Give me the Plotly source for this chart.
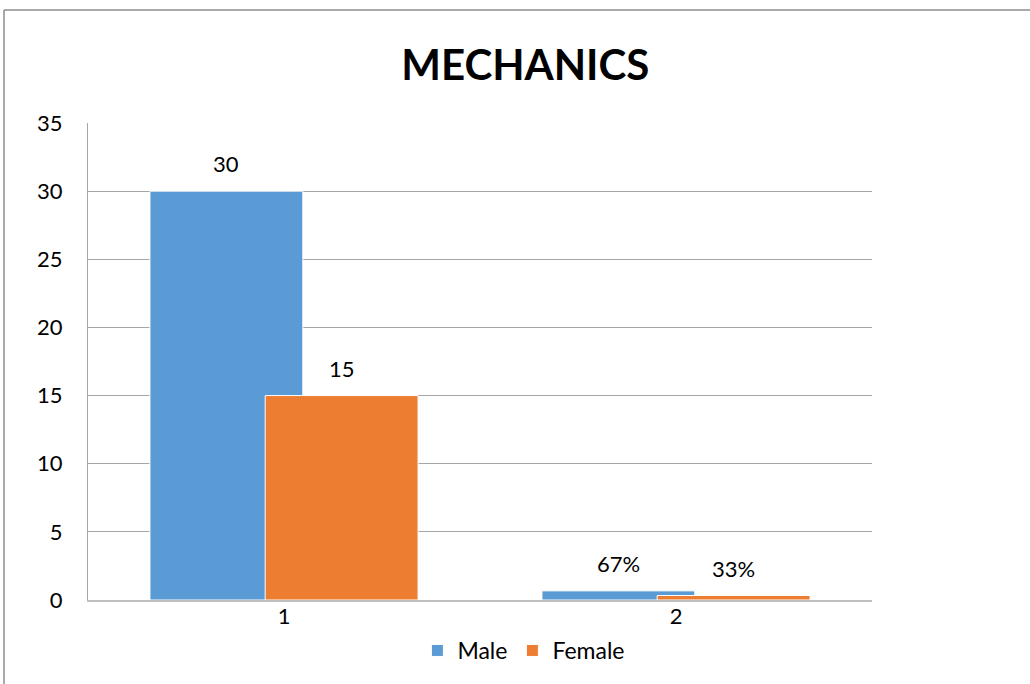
import plotly.graph_objects as go

categories = ["1", "2"]
male = [30, 0.67]
female = [15, 0.33]
male_labels = ["30", "67%"]
female_labels = ["15", "33%"]
series_names = ["Male", "Female"]
y_ticks = [0, 5, 10, 15, 20, 25, 30, 35]

BLUE = "#5b9bd5"
ORANGE = "#ed7d31"
FONT = "Lato, 'Open Sans', sans-serif"

W_BAR = 0.39
OFF_M = -0.342
OFF_F = -0.048

fig = go.Figure()
fig.add_trace(go.Bar(
    x=[0, 1], y=male, name=series_names[0], width=W_BAR, offset=OFF_M,
    marker=dict(color=BLUE, line=dict(color="white", width=1)),
))
fig.add_trace(go.Bar(
    x=[0, 1], y=female, name=series_names[1], width=W_BAR, offset=OFF_F,
    marker=dict(color=ORANGE, line=dict(color="white", width=1)),
))

annotations = []
for i in range(len(categories)):
    annotations.append(dict(x=i + OFF_M + W_BAR / 2, y=male[i], text=male_labels[i],
                            xref="x", yref="y", showarrow=False, yanchor="bottom", yshift=12,
                            font=dict(family=FONT, size=22, color="#000")))
    annotations.append(dict(x=i + OFF_F + W_BAR / 2, y=female[i], text=female_labels[i],
                            xref="x", yref="y", showarrow=False, yanchor="bottom", yshift=12,
                            font=dict(family=FONT, size=22, color="#000")))

fig.update_layout(
    width=1030, height=684,
    margin=dict(l=88, r=158, t=123, b=84, autoexpand=False),
    paper_bgcolor="white", plot_bgcolor="white",
    barmode="overlay",
    title=dict(text="<b>MECHANICS</b>", x=0.51, xanchor="center", y=0.905, yanchor="middle",
               font=dict(family=FONT, size=42, color="#000")),
    font=dict(family=FONT, size=22, color="#000"),
    showlegend=True,
    legend=dict(orientation="h", x=0.556, xanchor="center",
                y=-(629 - 600) / 477, yanchor="top",
                font=dict(family=FONT, size=23, color="#000"), itemwidth=30,
                traceorder="normal"),
    annotations=annotations,
    xaxis=dict(range=[-0.5, 1.5], tickmode="array", tickvals=[0, 1], ticktext=categories,
               showgrid=False, showline=True, linecolor="#bfbfbf", linewidth=2,
               ticks="", zeroline=False, ticklabelstandoff=-4, automargin=False,
               tickfont=dict(family=FONT, size=22, color="#000")),
    yaxis=dict(range=[0, 35], tickvals=y_ticks, showgrid=True, gridcolor="#a6a6a6", gridwidth=1,
               showline=True, linecolor="#a6a6a6", linewidth=1, zeroline=False,
               ticks="", ticklabelstandoff=20, automargin=False,
               tickfont=dict(family=FONT, size=22, color="#000")),
    shapes=[
        dict(type="line", xref="paper", yref="paper", x0=(4 - 88) / 784, x1=(4 - 88) / 784,
             y0=(600 - 10) / 477, y1=-0.3, line=dict(color="#8c8c8c", width=1.5)),
        dict(type="line", xref="paper", yref="paper", x0=(4 - 88) / 784, x1=1.3,
             y0=(600 - 10) / 477, y1=(600 - 10) / 477, line=dict(color="#8c8c8c", width=1.5)),
    ],
)

fig.write_html("out.html")
